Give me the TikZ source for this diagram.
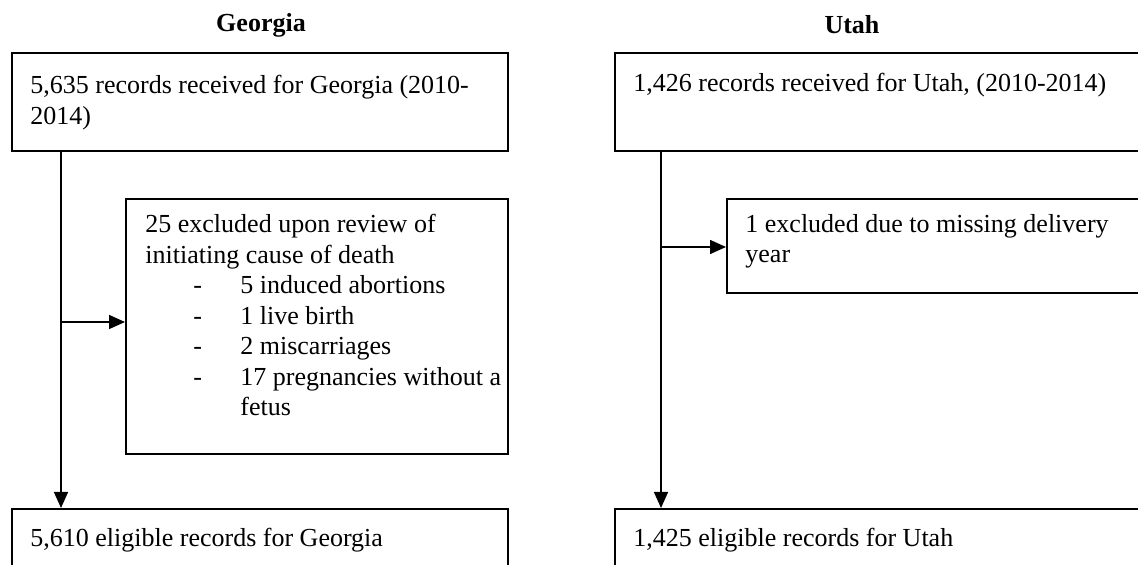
\documentclass[tikz,border=0pt]{standalone}
\usepackage{fontspec}
\setmainfont{Liberation Serif}
\usetikzlibrary{arrows.meta}
\begin{document}
\begin{tikzpicture}[x=0.5pt,y=-0.5pt,
 box/.style={draw, line width=1pt, inner sep=0pt, anchor=north west},
 txt/.style={inner sep=0pt, anchor=north west, align=left, font=\fontsize{13}{15.25}\selectfont},
 ttl/.style={inner sep=0pt, font=\fontsize{13}{15.25}\selectfont\bfseries},
 arr/.style={line width=0.75pt, -{Triangle[length=8pt,width=7pt]}}]
\useasboundingbox (0,0) rectangle (1138,565);
\clip (0,0) rectangle (1138,565);
% titles
\node[ttl] (tg) at (261,25) {Georgia};
\node[ttl] (tu) at (852,25) {Utah};
% boxes
\node[box, minimum width=248pt, minimum height=49pt] (G1) at (11,52) {};
\node[box, minimum width=268pt, minimum height=49pt] (U1) at (614,52) {};
\node[box, minimum width=191pt, minimum height=127.5pt] (GX) at (125,198) {};
\node[box, minimum width=212pt, minimum height=47pt] (UX) at (726,198) {};
\node[box, minimum width=248pt, minimum height=36pt] (G2) at (11,508) {};
\node[box, minimum width=268pt, minimum height=36pt] (U2) at (614,508) {};
% texts
\node[txt] (tG1) at (30,75) {5,635 records received for Georgia (2010-\\2014)};
\node[txt] (tU1) at (633,73) {1,426 records received for Utah, (2010-2014)};
\node[txt] (tGX) at (145,214) {25 excluded upon review of\\initiating cause of death\\
\makebox[47.5pt][l]{\hspace*{24pt}-}5 induced abortions\\
\makebox[47.5pt][l]{\hspace*{24pt}-}1 live birth\\
\makebox[47.5pt][l]{\hspace*{24pt}-}2 miscarriages\\
\makebox[47.5pt][l]{\hspace*{24pt}-}17 pregnancies without a\\
\hspace*{47.5pt}fetus};
\node[txt] (tUX) at (745,214) {1 excluded due to missing delivery\\year};
\node[txt] (tG2) at (30,528) {5,610 eligible records for Georgia};
\node[txt] (tU2) at (633,528) {1,425 eligible records for Utah};
% connectors
\coordinate (gl) at (61,0);
\coordinate (ul) at (661,0);
\draw[arr] (gl |- G1.south) -- (gl |- G2.north);
\draw[arr] (gl |- 0,322) -- (GX.west |- 0,322);
\draw[arr] (ul |- U1.south) -- (ul |- U2.north);
\draw[arr] (ul |- 0,247) -- (UX.west |- 0,247);
\end{tikzpicture}
\end{document}
